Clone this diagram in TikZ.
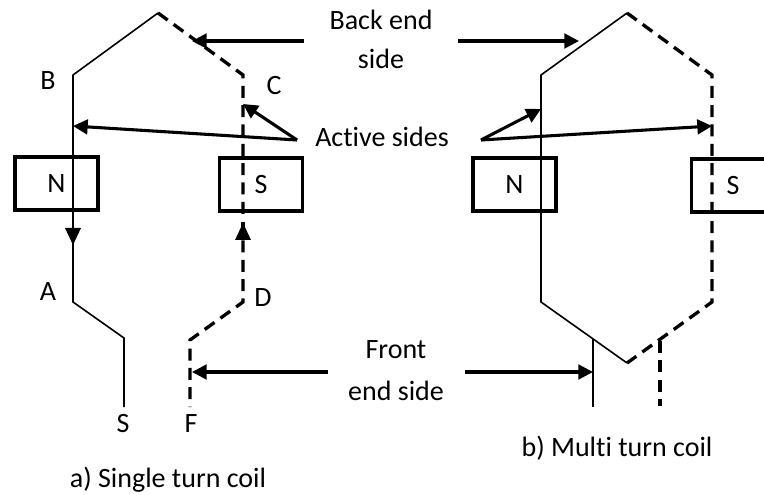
\documentclass[tikz,border=0pt]{standalone}
\usepackage{fontspec}
\setmainfont[Ligatures=NoCommon]{Carlito}
\usetikzlibrary{arrows.meta}
\tikzset{
  wire/.style={line width=1.2pt},
  wiredash/.style={line width=2.5pt,dash pattern=on 9pt off 5.5pt},
  pointer/.style={line width=2.3pt,-{Triangle[length=11pt,width=11pt]}},
  pole/.style={draw,line width=2.6pt,minimum width=62pt,minimum height=40pt,inner sep=0pt,font=\fontsize{21}{25}\selectfont},
  lbl/.style={inner sep=0pt,font=\fontsize{21}{25}\selectfont}
}
\begin{document}
\begin{tikzpicture}[x=0.75pt,y=-0.75pt]
\useasboundingbox (0,0) rectangle (764,495);
% poles
\node[pole] (n1) at (56.5,183.5) {N};
\node[pole] (s1) at (261,184.5) {S};
\node[pole] (n2) at (514.5,184.5) {N};
\node[pole] (s2) at (733,185.5) {S};
% coil a
\coordinate (top1) at (158,13);
\coordinate (b) at (73,75);
\coordinate (a) at (73,302);
\coordinate (c) at (243,75);
\coordinate (d) at (243,302);
\draw[wire] (top1) -- (b) -- (a) -- (124,338) -- (124,407);
\draw[wiredash] (top1) -- (c) -- (d) -- (190,340) -- (190,407);
\fill (73,245) -- (65,228) -- (81,228) -- cycle;
\fill (243,223) -- (235,240) -- (251,240) -- cycle;
\fill[white] (240,214) rectangle (246,222.5);
\draw[line width=2.5pt] (243,222) -- (243,240);
% coil b
\coordinate (top2) at (627,13);
\coordinate (bb) at (541,75);
\coordinate (aa) at (541,302);
\coordinate (low) at (627,363);
\coordinate (cc) at (712,75);
\coordinate (dd) at (712,302);
\draw[wire] (top2) -- (bb) -- (aa) -- (low);
\draw[wiredash] (top2) -- (cc) -- (dd) -- (low);
\draw[wire] (593,339) -- (593,407);
\draw[wiredash] (660,341) -- (660,406);
% labels
\node[lbl] (back) at (381,20) {Back end};
\node[lbl] (backs) at (381,59) {side};
\node[lbl] (act) at (382,137) {Active sides};
\node[lbl] (front) at (396,350) {Front};
\node[lbl] (frontb) at (396,391) {end side};
\node[lbl] (lb) at (48,81) {B};
\node[lbl] (lc) at (274,86) {C};
\node[lbl] (la) at (48,292) {A};
\node[lbl] (ld) at (263,298) {D};
\node[lbl] (ls) at (123,424) {S};
\node[lbl] (lf) at (191,424) {F};
\node[lbl] (cap1) at (168,480) {a) Single turn coil};
\node[lbl] (cap2) at (617,448) {b) Multi turn coil};
% arrows
\coordinate (bl) at (304,41);
\coordinate (br) at (458,41);
\coordinate (al) at (297,140);
\coordinate (ar) at (481,140);
\coordinate (fl) at (328,372);
\coordinate (fr) at (465,372);
\draw[pointer] (bl) -- (192,41);
\draw[pointer] (br) -- (579,41);
\draw[pointer] (al) -- (73,126);
\draw[pointer] (al) -- (243,104);
\draw[pointer] (ar) -- (541,109);
\draw[pointer] (ar) -- (712,126);
\draw[pointer] (fl) -- (192,372);
\draw[pointer] (fr) -- (593,372);
\end{tikzpicture}
\end{document}
